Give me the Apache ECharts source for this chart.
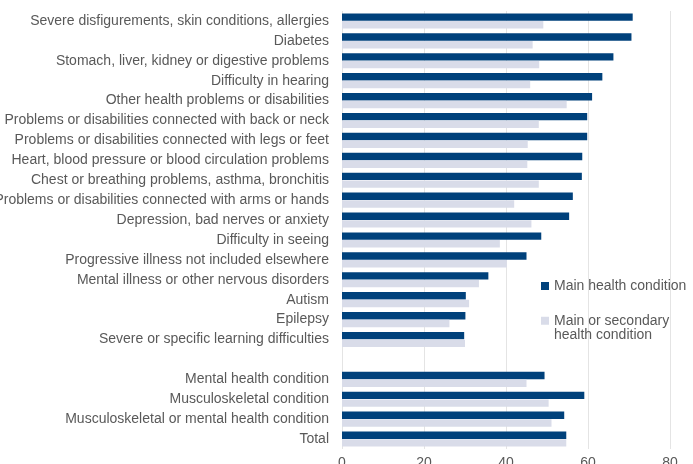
<!DOCTYPE html>
<html>
<head>
<meta charset="utf-8">
<script src="https://cdn.jsdelivr.net/npm/echarts@6/dist/echarts.min.js"></script>
<style>
  html, body { margin: 0; padding: 0; background: #fff; }
  #chart { width: 693px; height: 464px; }
</style>
</head>
<body>
<div id="chart"></div>
<script>
// Health condition categories (blank entry separates the grouped totals)
const categories = [
  'Severe disfigurements, skin conditions, allergies',
  'Diabetes',
  'Stomach, liver, kidney or digestive problems',
  'Difficulty in hearing',
  'Other health problems or disabilities',
  'Problems or disabilities connected with back or neck',
  'Problems or disabilities connected with legs or feet',
  'Heart, blood pressure or blood circulation problems',
  'Chest or breathing problems, asthma, bronchitis',
  'Problems or disabilities connected with arms or hands',
  'Depression, bad nerves or anxiety',
  'Difficulty in seeing',
  'Progressive illness not included elsewhere',
  'Mental illness or other nervous disorders',
  'Autism',
  'Epilepsy',
  'Severe or specific learning difficulties',
  '',
  'Mental health condition',
  'Musculoskeletal condition',
  'Musculoskeletal or mental health condition',
  'Total'
];

const mainCondition = [
  70.9, 70.6, 66.2, 63.5, 61.0, 59.8, 59.8, 58.6, 58.5, 56.3, 55.4,
  48.6, 45.0, 35.7, 30.2, 30.1, 29.8, null, 49.4, 59.1, 54.2, 54.7
];

const mainOrSecondary = [
  49.1, 46.5, 48.1, 45.9, 54.8, 48.0, 45.3, 45.2, 48.0, 42.0, 46.2,
  38.5, 40.2, 33.4, 31.0, 26.2, 30.0, null, 45.0, 50.4, 51.1, 54.7
];

const xTicks = { min: 0, max: 80, interval: 20 };

const seriesNames = ['Main health condition', 'Main or secondary health condition'];
const colors = ['#00417b', '#d9dce9'];
const textColor = '#595959';
const fontFamily = 'Liberation Sans, Arial, sans-serif';

const chart = echarts.init(document.getElementById('chart'), null, { renderer: 'canvas' });

chart.setOption({
  animation: false,
  backgroundColor: '#ffffff',
  textStyle: { fontFamily: fontFamily },
  grid: {
    left: 342, right: 23, top: 11, bottom: 15,
    containLabel: false,
    outerBoundsMode: 'none'
  },
  legend: [
    {
      data: [seriesNames[0]],
      orient: 'vertical',
      left: 536,
      top: 274,
      itemWidth: 8,
      itemHeight: 8,
      icon: 'rect',
      textStyle: { color: textColor, fontSize: 14, fontFamily: fontFamily }
    },
    {
      data: [seriesNames[1]],
      orient: 'vertical',
      left: 536,
      top: 294,
      itemWidth: 8,
      itemHeight: 8,
      icon: 'rect',
      // leading blank line keeps the first text line level with the swatch
      formatter: function () { return ' \nMain or secondary\nhealth condition'; },
      textStyle: {
        color: textColor, fontSize: 14, lineHeight: 14.5, fontFamily: fontFamily
      }
    }
  ],
  xAxis: {
    type: 'value',
    min: xTicks.min,
    max: xTicks.max,
    interval: xTicks.interval,
    axisLine: { show: false },
    axisTick: { show: false },
    axisLabel: { color: textColor, fontSize: 14, margin: 7 },
    splitLine: { show: true, lineStyle: { color: '#e4e4e4', width: 1 } }
  },
  yAxis: {
    type: 'category',
    data: categories,
    inverse: true,
    axisLine: { show: false },
    axisTick: { show: false },
    axisLabel: { color: textColor, fontSize: 14, margin: 13, interval: 0 }
  },
  series: [
    {
      name: seriesNames[0],
      type: 'bar',
      data: mainCondition,
      itemStyle: { color: colors[0] },
      barGap: '4%',
      barCategoryGap: '24%'
    },
    {
      name: seriesNames[1],
      type: 'bar',
      data: mainOrSecondary,
      itemStyle: { color: colors[1] },
      barGap: '4%',
      barCategoryGap: '24%'
    }
  ]
});
</script>
</body>
</html>
